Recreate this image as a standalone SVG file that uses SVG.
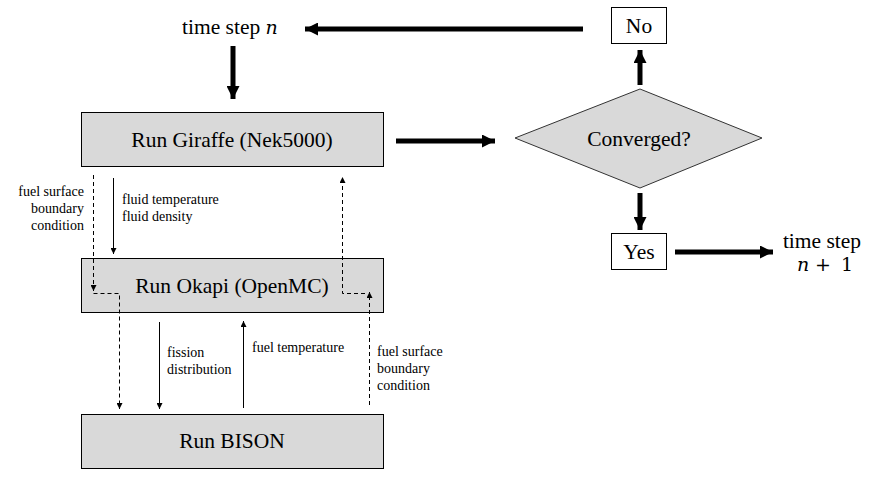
<svg xmlns="http://www.w3.org/2000/svg" width="873" height="483" viewBox="0 0 873 483">
<style>
.box{fill:#d9d9d9;stroke:#000;stroke-width:1}
.wbox{fill:#fff;stroke:#000;stroke-width:1}
.big{font-family:"Liberation Serif",serif;font-size:21.5px;fill:#000}
.sm{font-family:"Liberation Serif",serif;font-size:14px;fill:#000}
.math{font-family:"DejaVu Serif","Liberation Serif",serif;font-size:19px;fill:#000}
.thick{stroke:#000;stroke-width:5;fill:none}
.thin{stroke:#000;stroke-width:1;fill:none}
.dash{stroke:#000;stroke-width:1;fill:none;stroke-dasharray:4,3}
</style>
<defs>
<marker id="big" viewBox="0 0 10 10" refX="10" refY="5" markerWidth="2.6" markerHeight="2.6" orient="auto" markerUnits="strokeWidth"><path d="M0,0 L10,5 L0,10 z" fill="#000"/></marker>
<marker id="sml" viewBox="0 0 10 10" refX="10" refY="5" markerWidth="7" markerHeight="6" orient="auto" markerUnits="userSpaceOnUse"><path d="M0,0 L10,5 L0,10 z" fill="#000"/></marker>
</defs>
<rect width="873" height="483" fill="#fff"/>
<g id="timestep-n"><text class="big" x="182" y="34">time step <tspan class="math" font-style="italic">n</tspan></text></g>
<g id="giraffe"><rect class="box" x="81.5" y="112.5" width="302" height="54"/><text class="big" x="232" y="147" text-anchor="middle">Run Giraffe (Nek5000)</text></g>
<g id="okapi"><rect class="box" x="81.5" y="258.5" width="302" height="54"/><text class="big" x="232" y="293" text-anchor="middle">Run Okapi (OpenMC)</text></g>
<g id="bison"><rect class="box" x="81.5" y="414.5" width="302" height="54"/><text class="big" x="232" y="448" text-anchor="middle">Run BISON</text></g>
<g id="converged"><polygon points="515,138 640,89 762,138 640,188" fill="#d9d9d9" stroke="#333" stroke-width="1"/><text class="big" x="639" y="146" text-anchor="middle">Converged?</text></g>
<g id="no"><rect class="wbox" x="611.5" y="7.5" width="55" height="36"/><text class="big" x="639" y="33" text-anchor="middle">No</text></g>
<g id="yes"><rect class="wbox" x="611.5" y="233.5" width="55" height="36"/><text class="big" x="639" y="259" text-anchor="middle">Yes</text></g>
<g id="timestep-n1"><text class="big" x="822" y="248" text-anchor="middle">time step</text><text class="math" y="271"><tspan x="797" font-style="italic">n</tspan><tspan x="815">+</tspan><tspan x="841">1</tspan></text></g>
<g id="labels">
<text class="sm" x="84" y="196" text-anchor="end">fuel surface</text>
<text class="sm" x="84" y="213" text-anchor="end">boundary</text>
<text class="sm" x="84" y="230" text-anchor="end">condition</text>
<text class="sm" x="122" y="204">fluid temperature</text>
<text class="sm" x="122" y="221">fluid density</text>
<text class="sm" x="167" y="357">fission</text>
<text class="sm" x="167" y="374">distribution</text>
<text class="sm" x="252" y="352">fuel temperature</text>
<text class="sm" x="377" y="356">fuel surface</text>
<text class="sm" x="377" y="373">boundary</text>
<text class="sm" x="377" y="390">condition</text>
</g>
<g id="connectors">
<line class="thick" x1="583" y1="29" x2="305" y2="29" marker-end="url(#big)"/>
<line class="thick" x1="233" y1="46" x2="233" y2="99" marker-end="url(#big)"/>
<line class="thick" x1="396" y1="141" x2="495" y2="141" marker-end="url(#big)"/>
<line class="thick" x1="640" y1="85" x2="640" y2="50" marker-end="url(#big)"/>
<line class="thick" x1="640" y1="193" x2="640" y2="230" marker-end="url(#big)"/>
<line class="thick" x1="675" y1="252" x2="773" y2="252" marker-end="url(#big)"/>
<line class="thin" x1="113.5" y1="178" x2="113.5" y2="254" marker-end="url(#sml)"/>
<line class="thin" x1="159.5" y1="322" x2="159.5" y2="409" marker-end="url(#sml)"/>
<line class="thin" x1="243.5" y1="408" x2="243.5" y2="321" marker-end="url(#sml)"/>
<path class="dash" d="M93.5,175 V291" marker-end="url(#sml)"/>
<path class="dash" d="M93.5,293.5 H119.5 V409" marker-end="url(#sml)"/>
<path class="dash" d="M369.5,405 V292" marker-end="url(#sml)"/>
<path class="dash" d="M365,293.5 H342.5 V177" marker-end="url(#sml)"/>
</g>
</svg>
